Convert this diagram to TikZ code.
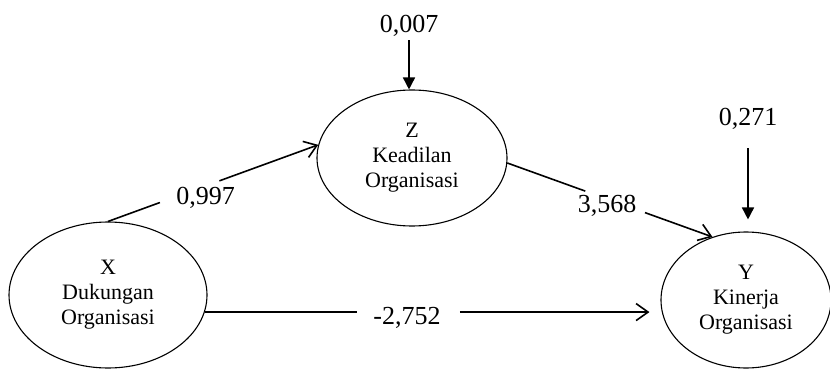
\documentclass[tikz,border=0pt]{standalone}
\usepackage{fontspec}
\setmainfont{Liberation Serif}
\usetikzlibrary{arrows.meta,calc,shapes.geometric}
\begin{document}
\begin{tikzpicture}[x=1pt,y=-1pt,
  var/.style={draw, ellipse, line width=1.1pt, align=center, inner sep=0pt,
    font=\fontsize{22}{25}\selectfont},
  coef/.style={inner sep=0pt, font=\fontsize{26}{30}\selectfont},
  seg/.style={line width=1.6pt},
  pathto/.style={line width=1.6pt, -{Straight Barb[length=12pt,width=17pt,line width=1.6pt]}},
  resid/.style={line width=1.6pt, -{Triangle[length=12pt,width=12pt]}}]
\useasboundingbox (0,0) rectangle (830,369);
% latent variables
\node[var, minimum width=198pt, minimum height=146pt] (X) at (108,295) {X\\Dukungan\\Organisasi};
\node[var, minimum width=190pt, minimum height=136pt] (Z) at (412,158) {Z\\Keadilan\\Organisasi};
\node[var, minimum width=170pt, minimum height=136pt] (Y) at (746,300) {Y\\Kinerja\\Organisasi};
% coefficients
\node[coef] (l997) at (205.5,198) {0,997};
\node[coef] (l3568) at (607,205.5) {3,568};
\node[coef] (l2752) at (407,318) {-2,752};
\node[coef] (l007) at (409,25.5) {0,007};
\node[coef] (l271) at (748,118.5) {0,271};
% X -> Z
\draw[seg] (X.north) -- ($(X.north)!0.247!(Z.172)$);
\draw[pathto] ($(X.north)!0.53!(Z.172)$) -- (Z.172);
% Z -> Y
\draw[seg] (Z.-3) -- ($(Z.-3)!0.38!(Y.118)$);
\draw[pathto] ($(Z.-3)!0.671!(Y.118)$) -- (Y.118);
% X -> Y
\draw[seg, shorten >=16pt] (X.350) -- (X.350 -| l2752.west);
\draw[pathto, shorten <=19pt, shorten >=11pt] (X.350 -| l2752.east) -- (X.350 -| Y.west);
% residuals
\draw[resid, shorten <=4pt] (l007.south) -- (l007.south |- Z.north);
\draw[resid, shorten <=19pt, shorten >=12pt] (l271.south) -- (l271.south |- Y.north);
\end{tikzpicture}
\end{document}
